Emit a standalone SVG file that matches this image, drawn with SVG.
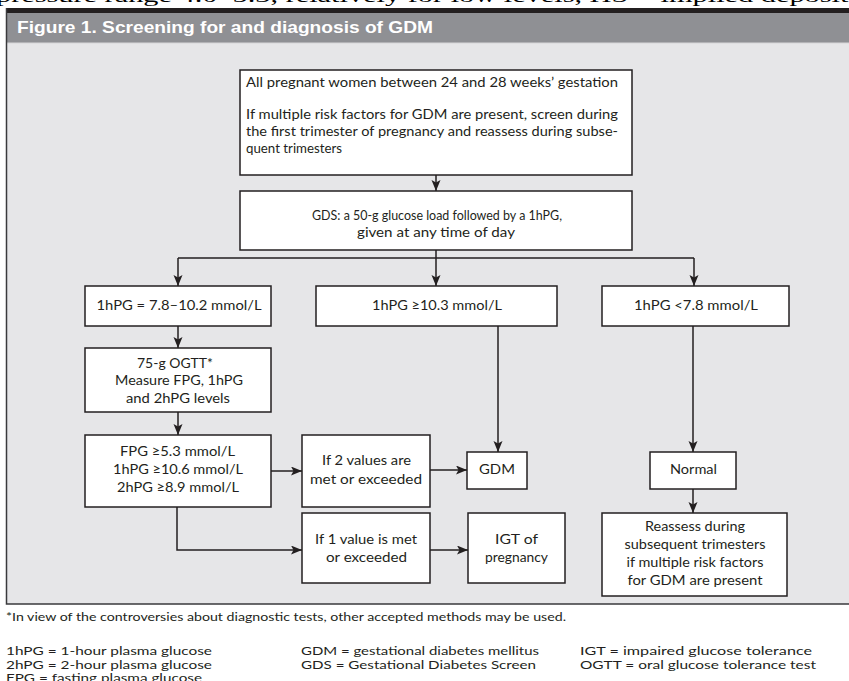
<svg xmlns="http://www.w3.org/2000/svg" width="849" height="681" viewBox="0 0 849 681">
<style>
.box{fill:#fff;stroke:#231f20;stroke-width:1.5}
.t{font-family:Lato,"Liberation Sans",sans-serif;font-size:13px;fill:#231f20}
.c{text-anchor:middle}
.ft{font-family:Lato,"Liberation Sans",sans-serif;font-size:12px;fill:#231f20}
.ln{fill:none;stroke:#231f20;stroke-width:1.5}
.arr{marker-end:url(#ah)}
</style>
<defs>
<marker id="ah" markerUnits="userSpaceOnUse" markerWidth="12" markerHeight="10" refX="11" refY="4.5" orient="auto">
<path d="M0,0 L11,4.5 L0,9 L2.5,4.5 Z" fill="#231f20"/>
</marker>
</defs>
<rect x="0" y="0" width="849" height="681" fill="#fff"/>
<text x="-4" y="2" font-family="'Liberation Serif',serif" font-size="18" fill="#000" textLength="860" lengthAdjust="spacingAndGlyphs">pressure range 4.0–5.3, relatively for low levels, HS = implied deposit,</text>
<g id="frame">
<rect x="6" y="8" width="843" height="5" fill="#231f20"/>
<rect x="7" y="13" width="842" height="30" fill="#8f9094"/>
<rect x="7" y="43" width="842" height="561" fill="#e6e6e8"/>
<line x1="7" y1="43" x2="849" y2="43" stroke="#d6d6d8" stroke-width="1"/>
<path d="M6.5,8 V604 H849" fill="none" stroke="#3a3a3c" stroke-width="1.5"/>
<text x="17" y="33" font-family="'Liberation Sans',sans-serif" font-weight="bold" font-size="17" fill="#fff" textLength="416" lengthAdjust="spacingAndGlyphs">Figure 1. Screening for and diagnosis of GDM</text>
</g>
<g id="connectors">
<path class="ln arr" d="M436,175 V191"/>
<path class="ln" d="M436,250 V258 M178,258 H694"/>
<path class="ln arr" d="M178,258 V286"/>
<path class="ln arr" d="M436,258 V286"/>
<path class="ln arr" d="M694,258 V286"/>
<path class="ln arr" d="M178,326 V348"/>
<path class="ln arr" d="M178,412 V435"/>
<path class="ln arr" d="M271,471 H302"/>
<path class="ln arr" d="M177,507 V550 H302"/>
<path class="ln arr" d="M430,470 H467"/>
<path class="ln arr" d="M430,550 H468"/>
<path class="ln arr" d="M498,326 V452"/>
<path class="ln arr" d="M693,326 V452"/>
<path class="ln arr" d="M693,489 V513"/>
</g>
<g id="start">
<rect class="box" x="240" y="70" width="392" height="105"/>
<text class="t" x="246" y="87" textLength="372" lengthAdjust="spacingAndGlyphs">All pregnant women between 24 and 28 weeks’ gestation</text>
<text class="t" x="246" y="119" textLength="372" lengthAdjust="spacingAndGlyphs">If multiple risk factors for GDM are present, screen during</text>
<text class="t" x="246" y="136" textLength="372" lengthAdjust="spacingAndGlyphs">the first trimester of pregnancy and reassess during subse-</text>
<text class="t" x="246" y="153" textLength="96" lengthAdjust="spacingAndGlyphs">quent trimesters</text>
</g>
<g id="gds">
<rect class="box" x="240" y="191" width="392" height="59"/>
<text class="t c" x="437" y="220" textLength="250" lengthAdjust="spacingAndGlyphs">GDS: a 50-g glucose load followed by a 1hPG,</text>
<text class="t c" x="436" y="237" textLength="158" lengthAdjust="spacingAndGlyphs">given at any time of day</text>
</g>
<g id="range">
<rect class="box" x="85" y="286" width="186" height="40"/>
<text class="t c" x="179" y="310" textLength="165" lengthAdjust="spacingAndGlyphs">1hPG = 7.8–10.2 mmol/L</text>
</g>
<g id="high">
<rect class="box" x="316" y="286" width="241" height="40"/>
<text class="t c" x="437" y="310" textLength="130" lengthAdjust="spacingAndGlyphs">1hPG ≥10.3 mmol/L</text>
</g>
<g id="low">
<rect class="box" x="602" y="286" width="187" height="40"/>
<text class="t c" x="696" y="310" textLength="124" lengthAdjust="spacingAndGlyphs">1hPG &lt;7.8 mmol/L</text>
</g>
<g id="ogtt">
<rect class="box" x="85" y="348" width="186" height="64"/>
<text class="t c" x="175" y="367.5" textLength="76" lengthAdjust="spacingAndGlyphs">75-g OGTT*</text>
<text class="t c" x="179" y="385" textLength="128" lengthAdjust="spacingAndGlyphs">Measure FPG, 1hPG</text>
<text class="t c" x="178" y="403" textLength="104" lengthAdjust="spacingAndGlyphs">and 2hPG levels</text>
</g>
<g id="criteria">
<rect class="box" x="85" y="435" width="186" height="72"/>
<text class="t c" x="177.5" y="456" textLength="115" lengthAdjust="spacingAndGlyphs">FPG ≥5.3 mmol/L</text>
<text class="t c" x="178" y="474" textLength="130" lengthAdjust="spacingAndGlyphs">1hPG ≥10.6 mmol/L</text>
<text class="t c" x="178" y="492" textLength="122" lengthAdjust="spacingAndGlyphs">2hPG ≥8.9 mmol/L</text>
</g>
<g id="two-values">
<rect class="box" x="302" y="435" width="128" height="72"/>
<text class="t c" x="366.5" y="465" textLength="89" lengthAdjust="spacingAndGlyphs">If 2 values are</text>
<text class="t c" x="366" y="484" textLength="112" lengthAdjust="spacingAndGlyphs">met or exceeded</text>
</g>
<g id="one-value">
<rect class="box" x="302" y="513" width="128" height="70"/>
<text class="t c" x="366" y="544" textLength="102" lengthAdjust="spacingAndGlyphs">If 1 value is met</text>
<text class="t c" x="366.5" y="562" textLength="81" lengthAdjust="spacingAndGlyphs">or exceeded</text>
</g>
<g id="gdm">
<rect class="box" x="467" y="452" width="60" height="37"/>
<text class="t c" x="497" y="474" textLength="36" lengthAdjust="spacingAndGlyphs">GDM</text>
</g>
<g id="igt">
<rect class="box" x="468" y="513" width="97" height="70"/>
<text class="t c" x="516.5" y="544" textLength="43" lengthAdjust="spacingAndGlyphs">IGT of</text>
<text class="t c" x="516.5" y="562" textLength="63" lengthAdjust="spacingAndGlyphs">pregnancy</text>
</g>
<g id="normal">
<rect class="box" x="650" y="452" width="86" height="37"/>
<text class="t c" x="693.5" y="474" textLength="47" lengthAdjust="spacingAndGlyphs">Normal</text>
</g>
<g id="reassess">
<rect class="box" x="602" y="513" width="185" height="83"/>
<text class="t c" x="695" y="531" textLength="100" lengthAdjust="spacingAndGlyphs">Reassess during</text>
<text class="t c" x="695" y="549" textLength="141" lengthAdjust="spacingAndGlyphs">subsequent trimesters</text>
<text class="t c" x="695" y="567" textLength="137" lengthAdjust="spacingAndGlyphs">if multiple risk factors</text>
<text class="t c" x="695" y="585" textLength="135" lengthAdjust="spacingAndGlyphs">for GDM are present</text>
</g>
<g id="notes">
<text class="ft" x="6" y="621" textLength="560" lengthAdjust="spacingAndGlyphs">*In view of the controversies about diagnostic tests, other accepted methods may be used.</text>
<text class="ft" x="6" y="655" textLength="206" lengthAdjust="spacingAndGlyphs">1hPG = 1-hour plasma glucose</text>
<text class="ft" x="6" y="668.5" textLength="206" lengthAdjust="spacingAndGlyphs">2hPG = 2-hour plasma glucose</text>
<text class="ft" x="6" y="682" textLength="196" lengthAdjust="spacingAndGlyphs">FPG = fasting plasma glucose</text>
<text class="ft" x="301" y="655" textLength="238" lengthAdjust="spacingAndGlyphs">GDM = gestational diabetes mellitus</text>
<text class="ft" x="301" y="668.5" textLength="235" lengthAdjust="spacingAndGlyphs">GDS = Gestational Diabetes Screen</text>
<text class="ft" x="580" y="655" textLength="232" lengthAdjust="spacingAndGlyphs">IGT = impaired glucose tolerance</text>
<text class="ft" x="580" y="668.5" textLength="236" lengthAdjust="spacingAndGlyphs">OGTT = oral glucose tolerance test</text>
</g>
</svg>
